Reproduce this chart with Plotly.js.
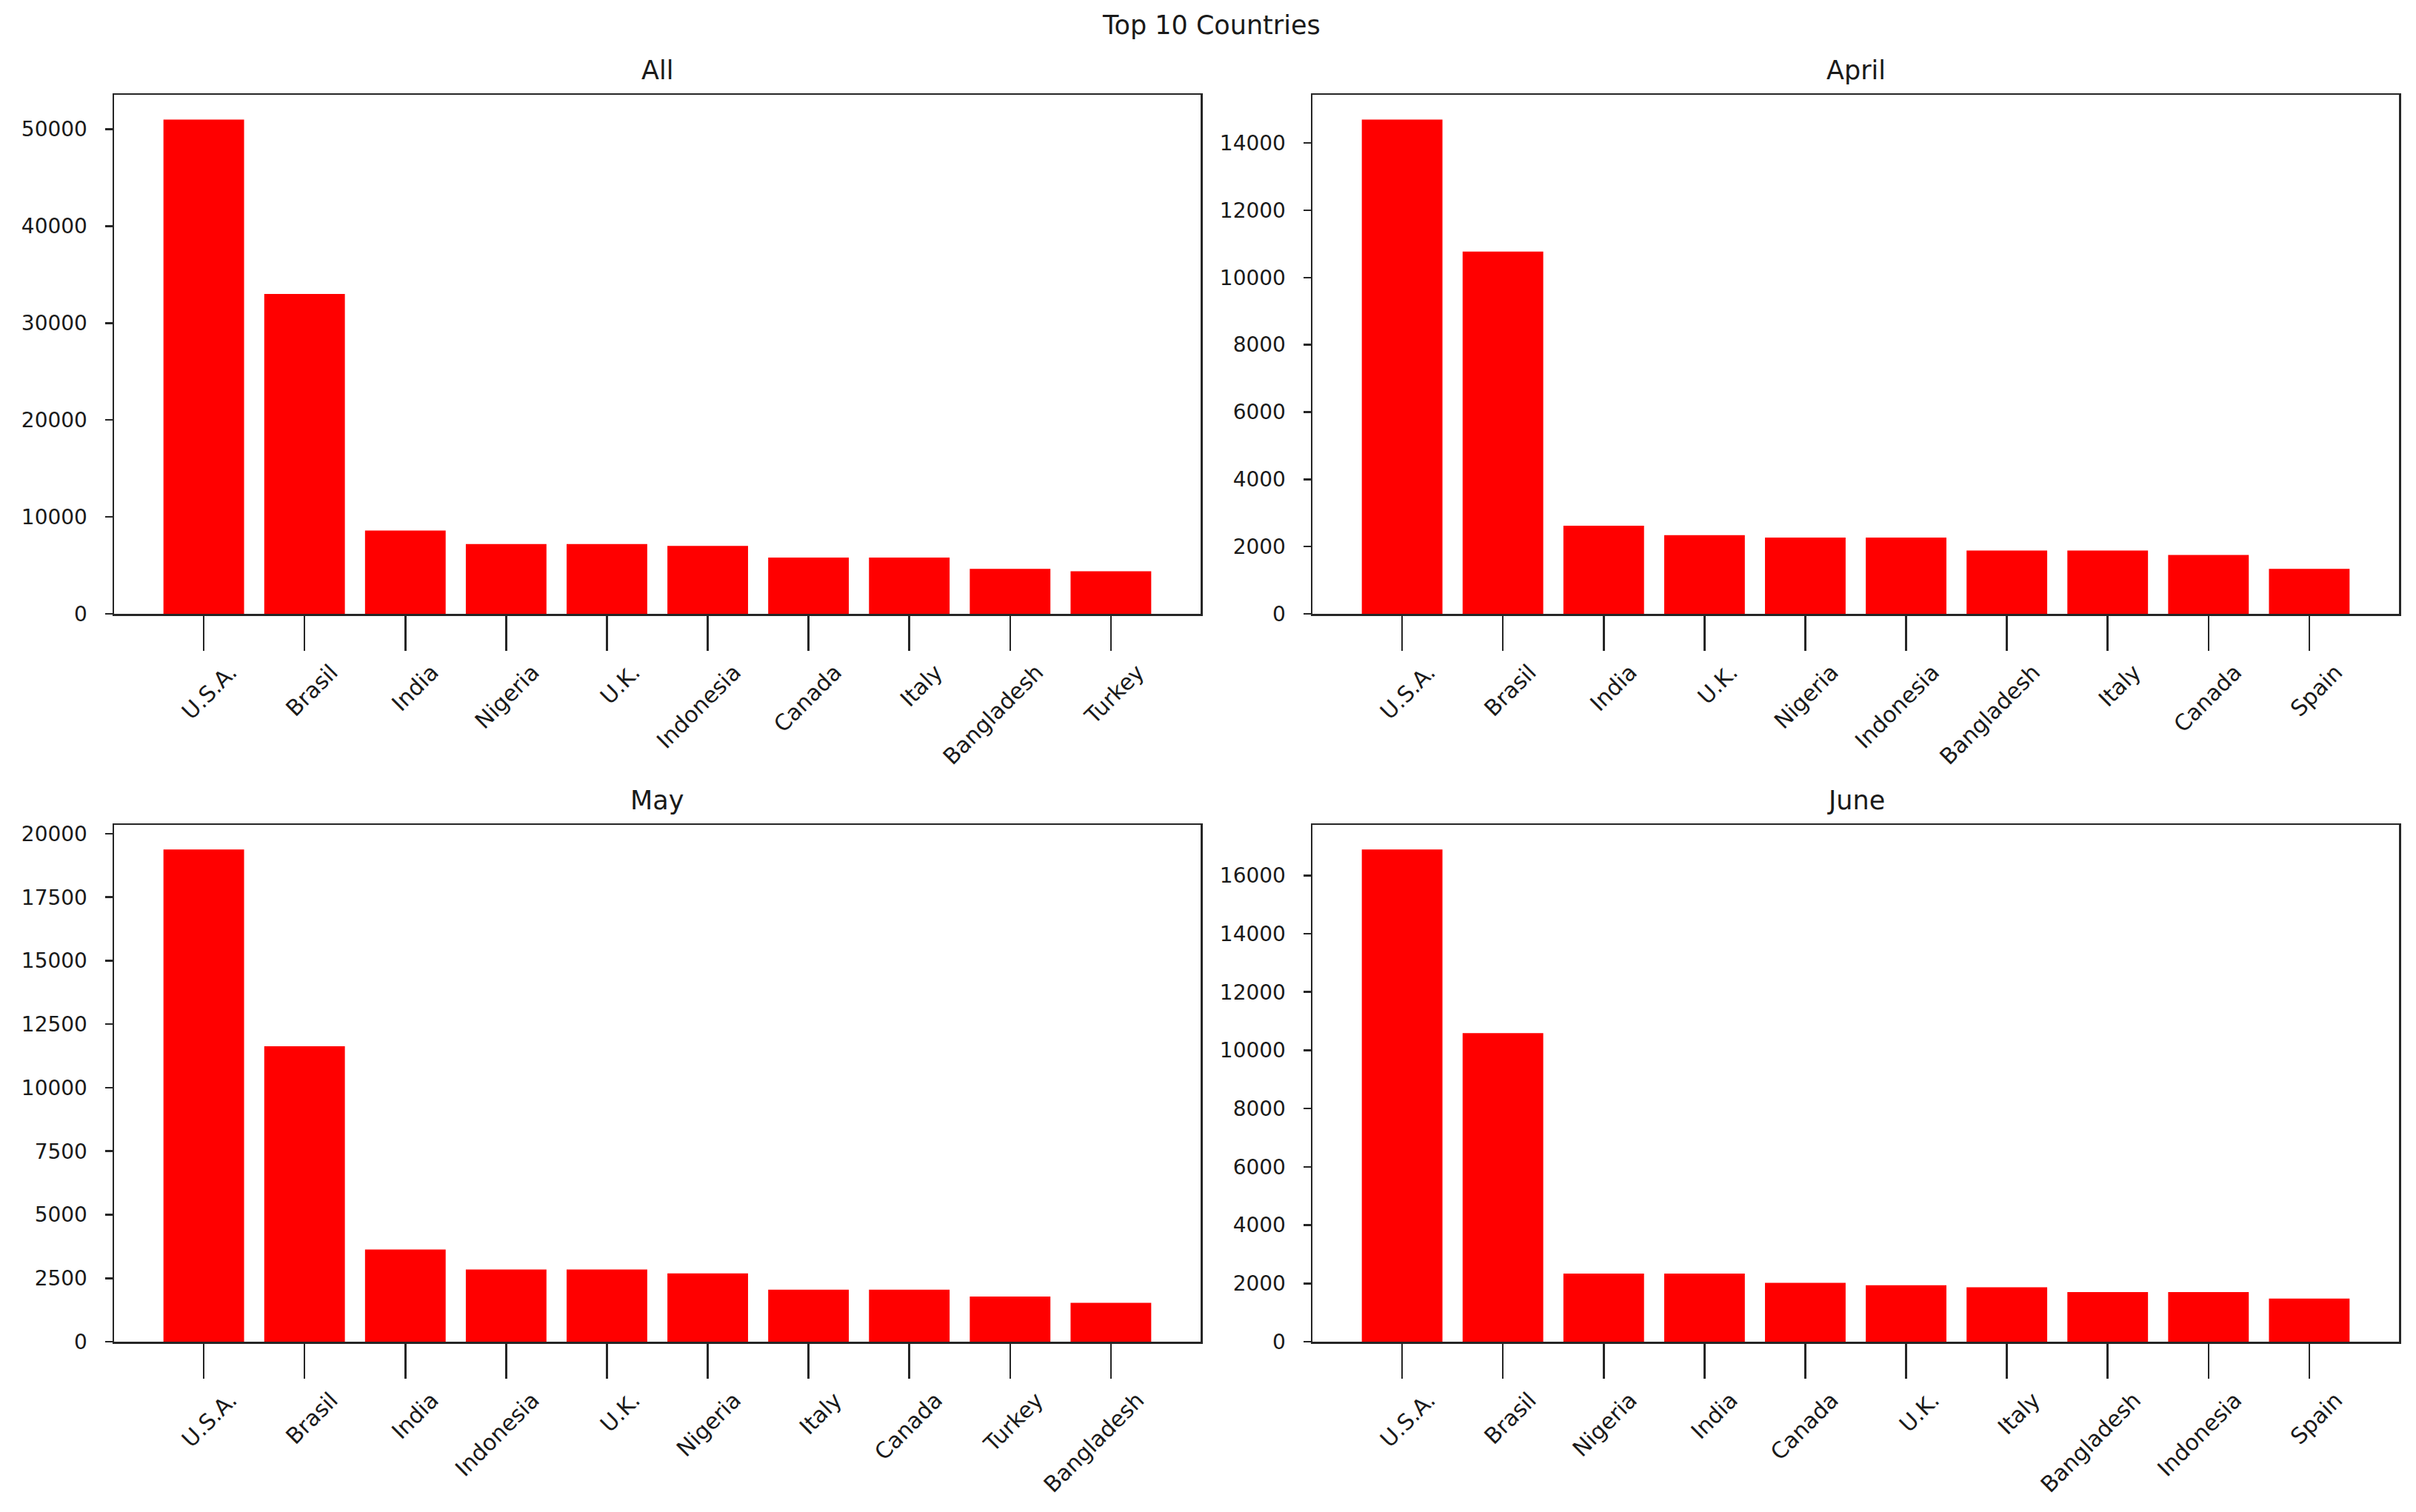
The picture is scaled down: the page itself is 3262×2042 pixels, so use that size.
<!DOCTYPE html>
<html>
<head>
<meta charset="utf-8">
<script src="https://cdn.plot.ly/plotly-3.0.1.min.js"></script>
<style>html,body{margin:0;padding:0;background:#fff;}#chart{width:3262px;height:2042px;}</style>
</head>
<body>
<div id="chart"></div>
<script>
const chartTitle = 'Top 10 Countries';
const panelTitles = ['All', 'April', 'May', 'June'];

const categoriesAll = ['U.S.A.', 'Brasil', 'India', 'Nigeria', 'U.K.', 'Indonesia', 'Canada', 'Italy', 'Bangladesh', 'Turkey'];
const valuesAll = [51000, 33000, 8600, 7200, 7200, 7000, 5800, 5800, 4650, 4400];

const categoriesApril = ['U.S.A.', 'Brasil', 'India', 'U.K.', 'Nigeria', 'Indonesia', 'Bangladesh', 'Italy', 'Canada', 'Spain'];
const valuesApril = [14700, 10770, 2620, 2340, 2270, 2270, 1880, 1880, 1750, 1340];

const categoriesMay = ['U.S.A.', 'Brasil', 'India', 'Indonesia', 'U.K.', 'Nigeria', 'Italy', 'Canada', 'Turkey', 'Bangladesh'];
const valuesMay = [19380, 11630, 3630, 2840, 2840, 2690, 2050, 2050, 1780, 1530];

const categoriesJune = ['U.S.A.', 'Brasil', 'Nigeria', 'India', 'Canada', 'U.K.', 'Italy', 'Bangladesh', 'Indonesia', 'Spain'];
const valuesJune = [16890, 10590, 2340, 2340, 2020, 1940, 1870, 1700, 1700, 1480];

const yTickSteps = [10000, 2000, 2500, 2000];

const W = 3262, H = 2042;
const xDomains = [[154 / W, 1621 / W], [1772 / W, 3239 / W]];
const yDomains = [[1 - 829 / H, 1 - 128 / H], [1 - 1812 / H, 1 - 1114 / H]];

const panels = [
  {cats: categoriesAll, vals: valuesAll},
  {cats: categoriesApril, vals: valuesApril},
  {cats: categoriesMay, vals: valuesMay},
  {cats: categoriesJune, vals: valuesJune}
];

const FONT = 'DejaVu Sans, sans-serif';
const LINE = '#262626';
const TEXT = '#1a1a1a';
const traces = [];
const layout = {
  width: W, height: H,
  margin: {l: 0, r: 0, t: 0, b: 0, pad: 0},
  paper_bgcolor: '#ffffff',
  plot_bgcolor: '#ffffff',
  showlegend: false,
  bargap: 0.2,
  font: {family: FONT, color: TEXT, size: 28},
  title: {
    text: chartTitle,
    x: 0.5015, xanchor: 'center',
    y: 1 - 34 / H, yanchor: 'middle', yref: 'container',
    font: {family: FONT, size: 35, color: TEXT}
  },
  annotations: []
};

panels.forEach((p, i) => {
  const n = i + 1;
  const xa = 'x' + (n === 1 ? '' : n);
  const ya = 'y' + (n === 1 ? '' : n);
  traces.push({
    type: 'bar',
    x: p.cats,
    y: p.vals,
    xaxis: xa,
    yaxis: ya,
    marker: {color: '#ff0000', line: {width: 0}},
    hoverinfo: 'x+y'
  });
  const col = i % 2, row = Math.floor(i / 2);
  const xKey = 'xaxis' + (n === 1 ? '' : n);
  const yKey = 'yaxis' + (n === 1 ? '' : n);
  layout[xKey] = {
    domain: xDomains[col],
    anchor: ya,
    type: 'category',
    range: [-0.89, p.cats.length - 1 + 0.89],
    showgrid: false, zeroline: false,
    showline: true, mirror: true, linecolor: LINE, linewidth: 2.5,
    ticks: 'outside', ticklen: 47, tickwidth: 2.5, tickcolor: LINE,
    tickangle: -45,
    ticklabelshift: 36,
    tickfont: {family: FONT, size: 30, color: TEXT},
    fixedrange: true
  };
  layout[yKey] = {
    domain: yDomains[row],
    anchor: xa,
    range: [0, Math.max(...p.vals) * 1.05],
    dtick: yTickSteps[i], tick0: 0,
    showgrid: false, zeroline: false,
    showline: true, mirror: true, linecolor: LINE, linewidth: 2.5,
    ticks: 'outside', ticklen: 10, tickwidth: 2.5, tickcolor: LINE,
    ticklabelstandoff: 18,
    tickfont: {family: FONT, size: 28, color: TEXT},
    tickformat: 'd',
    fixedrange: true
  };
  layout.annotations.push({
    text: panelTitles[i],
    xref: 'paper', yref: 'paper',
    x: (xDomains[col][0] + xDomains[col][1]) / 2,
    y: yDomains[row][1],
    xanchor: 'center', yanchor: 'bottom',
    yshift: 11,
    showarrow: false,
    font: {family: FONT, size: 35, color: TEXT}
  });
});

Plotly.newPlot('chart', traces, layout, {displayModeBar: false, staticPlot: true});
</script>
</body>
</html>
